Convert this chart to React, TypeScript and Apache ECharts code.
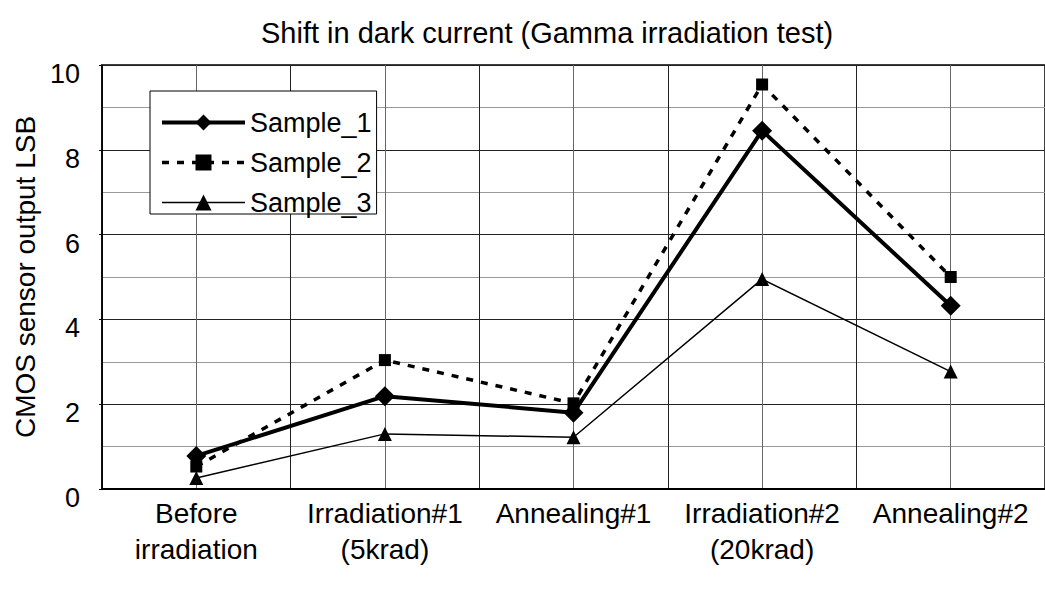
import React, { useEffect, useRef } from "react";
import * as echarts from "echarts";

const categories = [
  "Before\nirradiation",
  "Irradiation#1\n(5krad)",
  "Annealing#1",
  "Irradiation#2\n(20krad)",
  "Annealing#2",
];
const sample1 = [0.78, 2.19, 1.8, 8.45, 4.32];
const sample2 = [0.53, 3.04, 2.02, 9.54, 5.0];
const sample3 = [0.26, 1.3, 1.22, 4.95, 2.77];
const seriesNames = ["Sample_1", "Sample_2", "Sample_3"];

const FONT = "'Liberation Sans', Arial, sans-serif";

export default function App() {
  const ref = useRef<HTMLDivElement>(null);
  useEffect(() => {
    if (!ref.current) return;
    const chart = echarts.init(ref.current, null, { renderer: "svg" });
    chart.setOption({
      animation: false,
      backgroundColor: "#fff",
      textStyle: { fontFamily: FONT, color: "#000" },
      title: {
        text: "Shift in dark current (Gamma irradiation test)",
        left: 256,
        top: 13,
        textStyle: { fontFamily: FONT, fontSize: 29, fontWeight: "normal", color: "#000" },
      },
      legend: {
        orient: "vertical",
        left: 150,
        top: 91,
        data: [
          { name: seriesNames[0], lineStyle: { width: 4, color: "#000" } },
          { name: seriesNames[1], lineStyle: { width: 3.5, color: "#000", type: [7, 8] } },
          { name: seriesNames[2], lineStyle: { width: 1.5, color: "#000" } },
        ],
        itemWidth: 83,
        itemHeight: 20,
        itemGap: 13,
        padding: [18, 5, -2, 10],
        backgroundColor: "#fff",
        borderColor: "#000",
        borderWidth: 1,
        textStyle: { fontFamily: FONT, fontSize: 27, lineHeight: 26, color: "#000" },
      },
      grid: {
        left: 102,
        top: 65,
        bottom: 100,
        right: -5,
        show: true,
        borderColor: "#000",
        borderWidth: 1.5,
        backgroundColor: "transparent",
      },
      xAxis: [
        {
          type: "category",
          data: categories,
          boundaryGap: true,
          axisLine: { show: true, lineStyle: { color: "#000", width: 2 } },
          axisTick: { show: false },
          splitLine: { show: false },
          axisLabel: {
            fontFamily: FONT,
            fontSize: 28,
            lineHeight: 36,
            color: "#000",
            margin: 6,
            interval: 0,
          },
        },
        {
          type: "value",
          min: 0,
          max: 10,
          interval: 1,
          position: "bottom",
          axisLine: { show: false },
          axisTick: { show: false },
          axisLabel: { show: false },
          splitLine: { show: true, lineStyle: { color: ["#222", "#666"], width: 1 } },
        },
      ],
      yAxis: {
        type: "value",
        min: 0,
        max: 10,
        interval: 2,
        name: "CMOS sensor output LSB",
        nameLocation: "middle",
        nameRotate: 90,
        nameGap: 60,
        nameTextStyle: { fontFamily: FONT, fontSize: 28, color: "#000" },
        axisLine: { show: true, lineStyle: { color: "#000", width: 1.5 } },
        axisTick: { show: true, length: 3, lineStyle: { color: "#000" } },
        axisLabel: {
          fontFamily: FONT,
          fontSize: 27,
          lineHeight: 18,
          color: "#000",
          margin: 22,
          verticalAlign: "top",
        },
        splitLine: { show: true, lineStyle: { color: "#222", width: 1 } },
        minorTick: { show: false, splitNumber: 2 },
        minorSplitLine: { show: true, lineStyle: { color: "#999", width: 1 } },
      },
      series: [
        {
          name: seriesNames[0],
          type: "line",
          data: sample1,
          xAxisIndex: 0,
          symbol: "diamond",
          symbolSize: 20,
          itemStyle: { color: "#000" },
          lineStyle: { color: "#000", width: 4 },
          z: 4,
        },
        {
          name: seriesNames[1],
          type: "line",
          data: sample2,
          xAxisIndex: 0,
          symbol: "rect",
          symbolSize: 12,
          itemStyle: { color: "#000" },
          lineStyle: { color: "#000", width: 3.5, type: [7, 8] },
          z: 3,
        },
        {
          name: seriesNames[2],
          type: "line",
          data: sample3,
          xAxisIndex: 0,
          symbol: "triangle",
          symbolSize: 14,
          itemStyle: { color: "#000" },
          lineStyle: { color: "#000", width: 1.5 },
          z: 2,
        },
      ],
    });
    return () => chart.dispose();
  }, []);
  return (
    <div
      ref={ref}
      style={{ position: "fixed", left: 0, top: 0, width: 1045, height: 589, background: "#fff" }}
    />
  );
}
